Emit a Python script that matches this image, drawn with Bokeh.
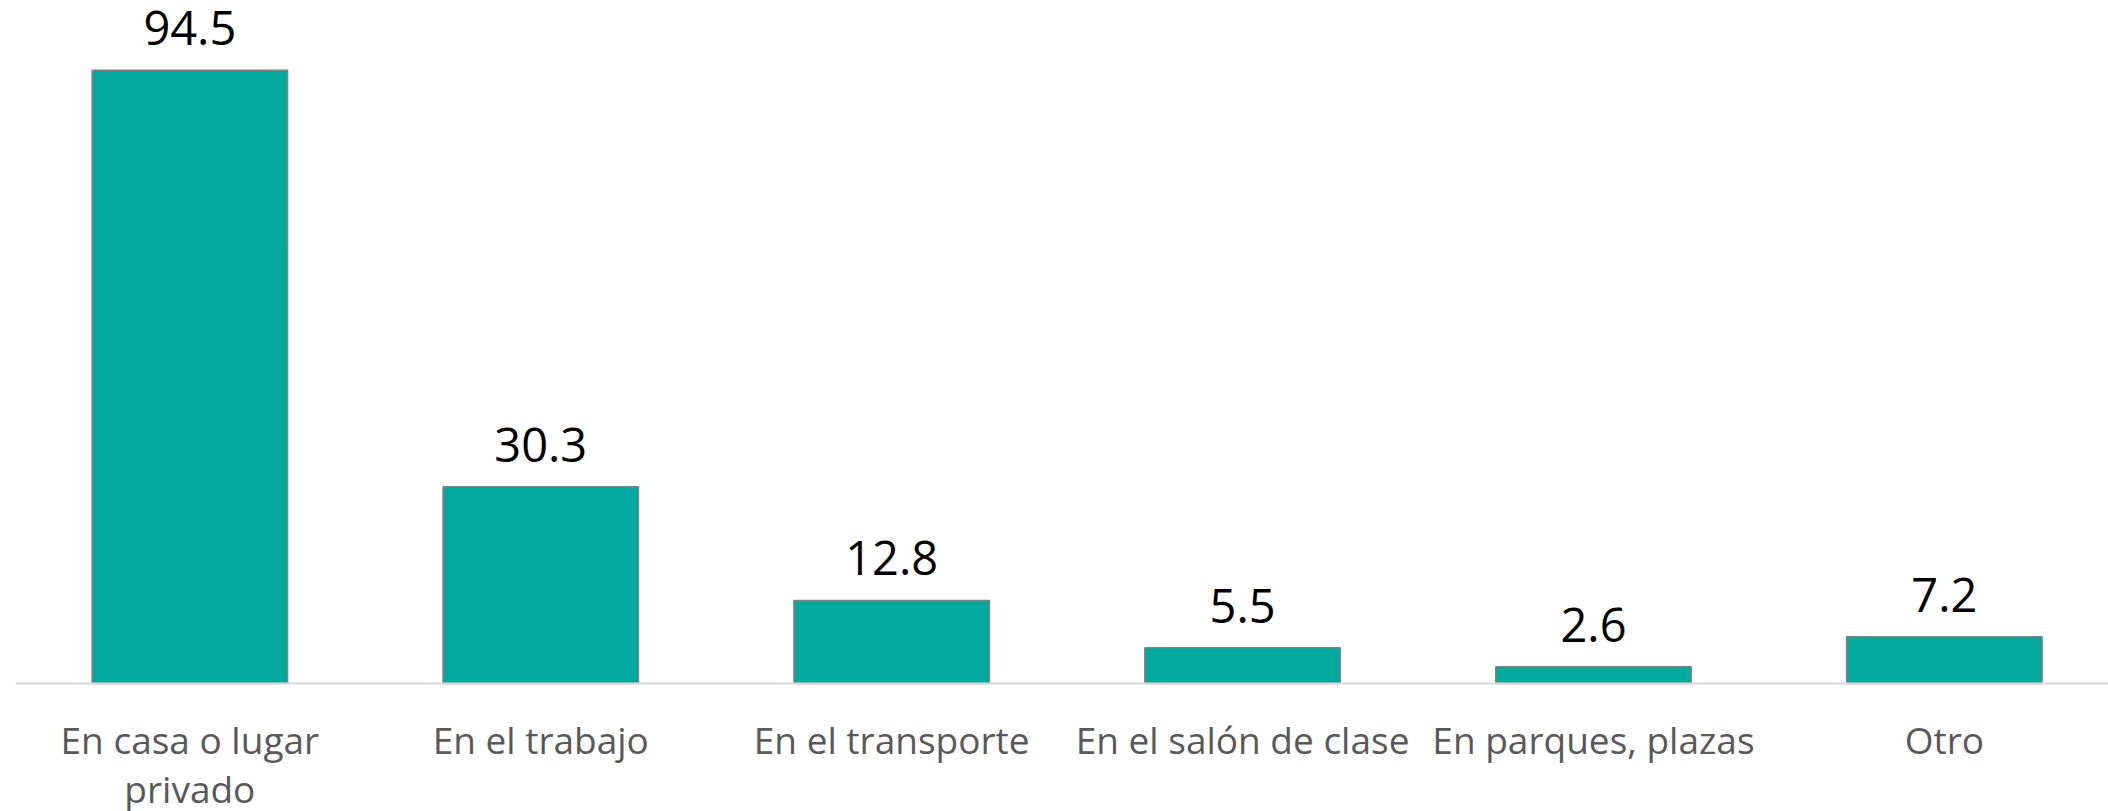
from bokeh.plotting import figure
from bokeh.models import ColumnDataSource, FixedTicker, Range1d
from bokeh.core.properties import value
from bokeh.embed import file_html
from bokeh.resources import INLINE

categories = ["En casa o lugar\nprivado", "En el trabajo", "En el transporte",
              "En el salón de clase", "En parques, plazas", "Otro"]
values = [94.5, 30.3, 12.8, 5.5, 2.6, 7.2]

xs = list(range(len(categories)))
labels = [f"{v:.1f}" for v in values]

source = ColumnDataSource(data=dict(x=xs, top=values, label=labels))

p = figure(width=2108, height=811, output_backend="svg", toolbar_location=None,
           x_range=Range1d(-0.4969, 5.4678), y_range=Range1d(-19.72, 105.24),
           min_border_left=15, min_border_right=0, min_border_top=0,
           min_border_bottom=0, y_axis_location=None)

p.vbar(x="x", top="top", bottom=0, width=0.557, source=source,
       fill_color="#00A89D", line_color="#808080", line_width=1.5)

p.text(x="x", y="top", text="label", source=source,
       text_font=value("Open Sans"), text_font_size="47px",
       text_color="#000000", text_align="center",
       text_baseline="alphabetic", y_offset=-42)

ax = p.xaxis[0]
ax.fixed_location = 0
ax.ticker = FixedTicker(ticks=xs)
ax.major_label_overrides = {i: c for i, c in zip(xs, categories)}
ax.axis_line_color = "#d9d9d9"
ax.axis_line_width = 2
ax.major_tick_line_color = None
ax.minor_tick_line_color = None
ax.major_tick_out = 0
ax.major_tick_in = 0
ax.major_label_standoff = 30
ax.major_label_text_font = "Open Sans"
ax.major_label_text_font_size = "37px"
ax.major_label_text_color = "#595959"
ax.major_label_text_line_height = 0.98

p.xgrid.visible = False
p.ygrid.visible = False
p.outline_line_color = None
p.background_fill_color = "white"
p.border_fill_color = "white"

open("out.html", "w").write(file_html(p, INLINE))
